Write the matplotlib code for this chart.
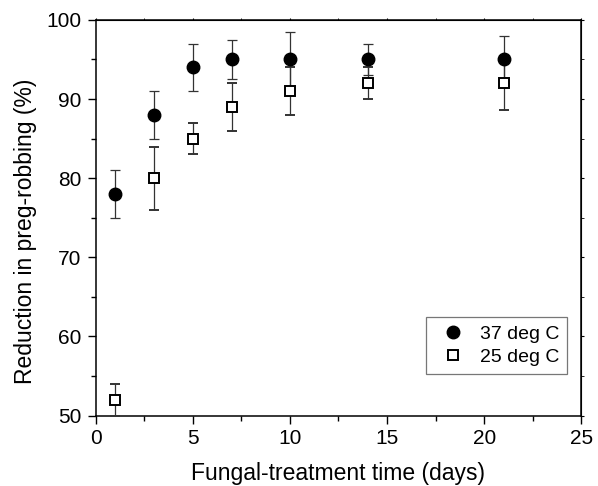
import numpy as np
from matplotlib import pyplot as plt

# fungal treatment time (days)
days = [1, 3, 5, 7, 10, 14, 21]
# reduction in preg-robbing (%)
hot = [78, 88, 94, 95, 95, 95, 95]        # 37 deg C
hot_err = [3, 3, 3, 2.5, 3.5, 2, 3]
cool = [52, 80, 85, 89, 91, 92, 92]       # 25 deg C
cool_err = [2, 4, 2, 3, 3, 2, 3.4]

plt.rcParams['font.family'] = ['Liberation Sans', 'DejaVu Sans']

fig = plt.figure(figsize=(5.98, 4.86), dpi=100)
ax = fig.add_axes([0.160, 0.145, 0.812, 0.814])

ax.errorbar(days, hot, yerr=hot_err, fmt='o', color='black', ms=9,
            ecolor='#333333', elinewidth=0.9, capsize=3.3, capthick=0.9,
            label='37 deg C', zorder=3)
ax.errorbar(days, cool, yerr=cool_err, fmt='s', mfc='white', mec='black',
            mew=1.4, ms=6.5, ecolor='#333333', elinewidth=0.9, capsize=3.3,
            capthick=0.9, label='25 deg C', zorder=3)

ax.set_xlim(0, 25)
ax.set_ylim(50, 100)
ax.set_xticks(np.arange(0, 26, 5))
ax.set_yticks(np.arange(50, 101, 10))
ax.set_xticks(np.arange(2.5, 25, 5), minor=True)
ax.set_yticks(np.arange(55, 100, 10), minor=True)
ax.tick_params(which='both', direction='out', top=False, right=False,
               labelsize=15, width=1)
ax.tick_params(which='major', length=5.5)
ax.tick_params(which='minor', length=3.3)
ax.tick_params(axis='x', pad=4)
ax.tick_params(axis='y', pad=5)
for s in ax.spines.values():
    s.set_linewidth(1.1)

# short ticks on top and right like the original
top = ax.secondary_xaxis('top')
top.set_xticks(np.arange(0, 26, 5))
top.set_xticks(np.arange(2.5, 25, 5), minor=True)
top.tick_params(which='both', direction='out', length=1.5, labeltop=False)
right = ax.secondary_yaxis('right')
right.set_yticks(np.arange(50, 101, 10))
right.set_yticks(np.arange(55, 100, 10), minor=True)
right.tick_params(which='both', direction='out', length=2, labelright=False)

ax.set_xlabel('Fungal-treatment time (days)', fontsize=16.5, labelpad=10)
ax.set_ylabel('Reduction in preg-robbing (%)', fontsize=16.5)
ax.yaxis.set_label_coords(-0.12, 0.465)

handles, labels = ax.get_legend_handles_labels()
handles = [h[0] for h in handles]
leg = ax.legend(handles, labels, loc='lower right', bbox_to_anchor=(0.971, 0.105),
                borderaxespad=0, fontsize=14, fancybox=False, edgecolor='#555555',
                handletextpad=0.4, borderpad=0.4, labelspacing=0.3)
leg.get_frame().set_linewidth(0.9)

plt.savefig('out.png', dpi=100)
